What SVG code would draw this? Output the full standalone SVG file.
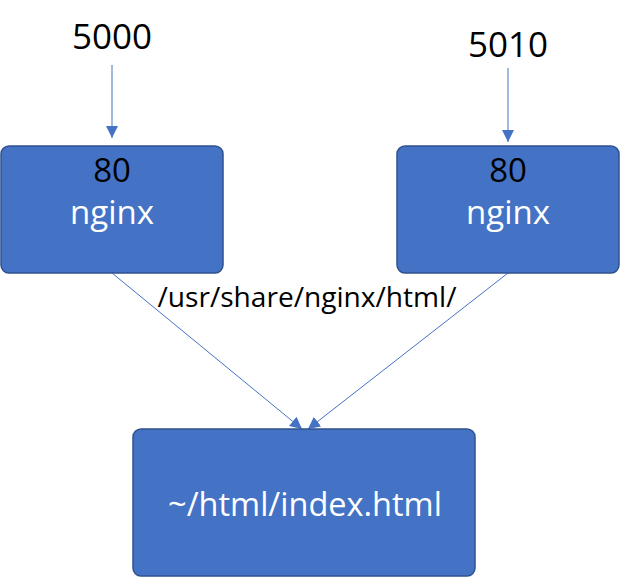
<svg xmlns="http://www.w3.org/2000/svg" width="620" height="577" viewBox="0 0 620 577">
<style>
.box{fill:#4472C4;stroke:#2F528F;stroke-width:1.5}
.t{font-family:"Open Sans","Noto Sans","DejaVu Sans",sans-serif;text-anchor:middle}
.port{font-size:35px;fill:#000}
.num{font-size:33px;fill:#000}
.name{font-size:33px;fill:#fff}
.file{font-size:32.5px;fill:#fff}
.lbl{font-size:27px;fill:#000}
.c{stroke:#4472C4;stroke-width:1;fill:none;marker-end:url(#ah)}
</style>
<defs>
<marker id="ah" viewBox="0 0 10 10" refX="10" refY="5" markerWidth="12" markerHeight="12" markerUnits="userSpaceOnUse" orient="auto">
<path d="M0,0 L10,5 L0,10 Z" fill="#4472C4"/>
</marker>
</defs>
<g id="connectors">
<line class="c" x1="112" y1="65" x2="112" y2="138"/>
<line class="c" x1="508" y1="68" x2="508" y2="142"/>
<line class="c" x1="112" y1="273" x2="302" y2="429"/>
<line class="c" x1="508" y1="273" x2="308" y2="429"/>
<text class="t lbl" x="307" y="307" textLength="299" lengthAdjust="spacingAndGlyphs">/usr/share/nginx/html/</text>
</g>
<g id="port5000"><text class="t port" x="112" y="49">5000</text></g>
<g id="port5010"><text class="t port" x="508" y="57">5010</text></g>
<g id="nginx1">
<rect class="box" x="1" y="146" width="222" height="127" rx="8"/>
<text class="t num" x="112" y="182">80</text>
<text class="t name" x="112" y="224">nginx</text>
</g>
<g id="nginx2">
<rect class="box" x="397" y="146" width="222" height="127" rx="8"/>
<text class="t num" x="508" y="182">80</text>
<text class="t name" x="508" y="224">nginx</text>
</g>
<g id="html">
<rect class="box" x="133" y="429" width="342" height="147" rx="8"/>
<text class="t file" x="305" y="516">~/html/index.html</text>
</g>
</svg>
